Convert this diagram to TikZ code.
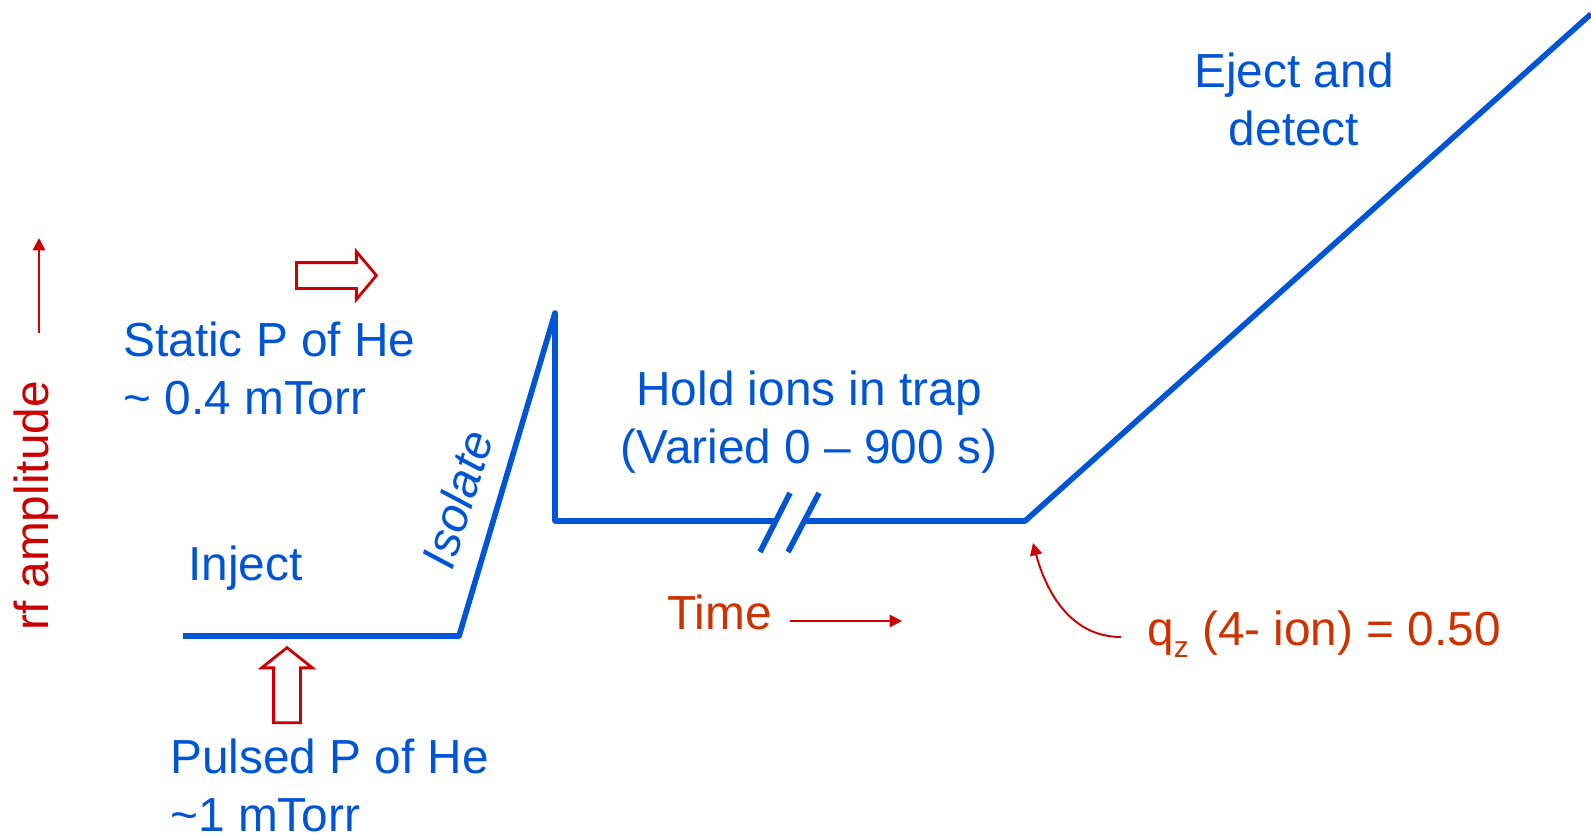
\documentclass[tikz,border=0pt]{standalone}
\usepackage{fontspec}
\setmainfont{Liberation Sans}
\usetikzlibrary{arrows.meta, shapes.arrows}

\definecolor{traceblue}{RGB}{0,85,212}
\definecolor{markred}{RGB}{204,0,0}
\definecolor{labelorange}{RGB}{204,51,0}

\begin{document}
\begin{tikzpicture}[
    x=0.02cm, y=-0.02cm,
    trace/.style={draw=traceblue, line width=3.2pt, line join=round},
    lbl/.style={font=\fontsize{27.2}{33}\selectfont, text=traceblue, inner sep=0pt, align=left},
    redlbl/.style={lbl, text=labelorange},
    pointer/.style={draw=markred, line width=1.1pt, -{Triangle[length=7pt, width=7pt]}},
    blockarrow/.style={single arrow, draw=markred, fill=white, line width=1.6pt,
      single arrow tip angle=100},
  ]
    \useasboundingbox (0,0) rectangle (1591,835);

    % rf trace
    \coordinate (inj0) at (183,636);
    \coordinate (inj1) at (459,636);
    \coordinate (peak) at (555,313);
    \coordinate (hold0) at (555,521);
    \coordinate (brk0) at (775,521);
    \coordinate (brk1) at (804,521);
    \coordinate (hold1) at (1025,521);
    \coordinate (ejend) at (1591,14);
    \draw[trace] (inj0) -- (inj1) -- (peak) -- (hold0) -- (brk0);
    \draw[trace] (brk1) -- (hold1) -- (ejend);
    % break marks
    \draw[trace] (760,552) -- (790,493);
    \draw[trace] (788,552) -- (819,493);

    % labels (base = last line)
    \node[lbl, anchor=base, align=center] (eject) at (1294,145) {Eject and\\detect};
    \node[lbl, anchor=base west] (static) at (123,414) {Static P of He\\\textasciitilde{} 0.4 mTorr};
    \node[lbl, anchor=base, align=center] (hold) at (809,463) {Hold ions in trap\\(Varied 0 – 900 s)};
    \node[lbl, anchor=base west] (inject) at (188,580) {Inject};
    \node[lbl, anchor=base west] (pulsed) at (170,831) {Pulsed P of He\\\textasciitilde1 mTorr};
    \node[lbl, rotate=73, font=\fontsize{27.2}{33}\selectfont\itshape] (isolate) at (457,499) {Isolate};
    \node[redlbl, anchor=base west] (time) at (667,629) {Time};
    \node[redlbl, anchor=base west] (qz) at (1147,645)
      {q\raisebox{-7pt}{\fontsize{17}{17}\selectfont z} (4- ion) = 0.50};
    \node[lbl, text=markred, rotate=90] (rfamp) at (36,506) {rf amplitude};

    % pointers
    \coordinate (rftail) at (39,333);
    \coordinate (rfhead) at (39,238);
    \draw[pointer] (rftail) -- (rfhead);
    \coordinate (timetail) at (790,621);
    \coordinate (timehead) at (902,621);
    \draw[pointer] (timetail) -- (timehead);
    \coordinate (qtail) at (1121,637);
    \coordinate (qhead) at (1033,543);
    \draw[pointer] (qtail) to[out=180, in=-75] (qhead);

    % gas arrows
    \node[blockarrow, minimum height=1.6cm, minimum width=0.9cm, inner sep=0.23cm,
      single arrow head extend=0.22cm] (staticarr) at (331,275.5) {};
    \node[blockarrow, shape border rotate=90, minimum height=1.5cm, minimum width=0.96cm,
      inner sep=0.24cm, single arrow head extend=0.24cm, single arrow tip angle=103] (pulsedarr) at (287,690.5) {};
\end{tikzpicture}
\end{document}
